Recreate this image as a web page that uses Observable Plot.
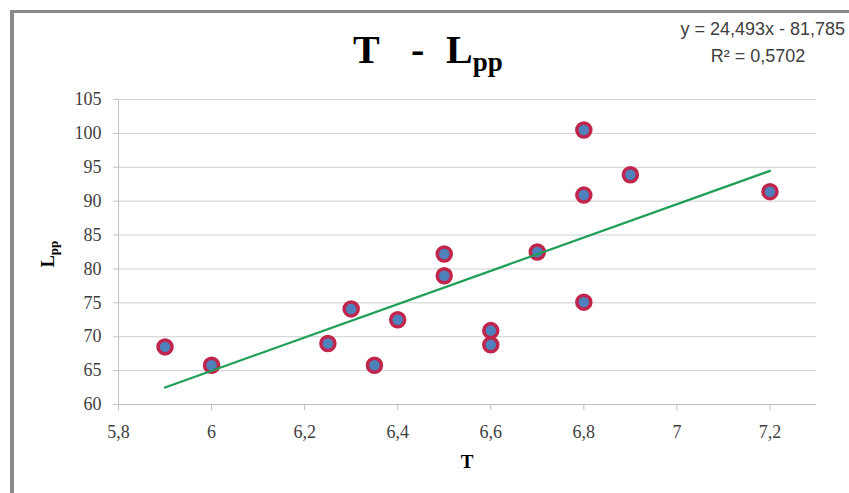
<!DOCTYPE html>
<html>
<head>
<meta charset="utf-8">
<script src="https://cdn.jsdelivr.net/npm/d3@7"></script>
<script src="https://cdn.jsdelivr.net/npm/@observablehq/plot@0.6"></script>
<style>
  html, body { margin: 0; padding: 0; background: #fff; }
  #chart { width: 849px; height: 493px; overflow: hidden; }
</style>
</head>
<body>
<div id="chart"></div>
<script>
// Data
const T   = [5.9, 6.0, 6.25, 6.3, 6.35, 6.4, 6.5, 6.5, 6.6, 6.6, 6.7, 6.8, 6.8, 6.8, 6.9, 7.2];
const Lpp = [68.5, 65.8, 69.0, 74.1, 65.8, 72.5, 82.2, 79.0, 70.9, 68.8, 82.5, 100.5, 90.9, 75.1, 93.9, 91.4];
const xTicks = [5.8, 6.0, 6.2, 6.4, 6.6, 6.8, 7.0, 7.2];
const yTicks = [60, 65, 70, 75, 80, 85, 90, 95, 100, 105];
const titleMain = "T", titleDash = "-", titleL = "L", titleSub = "pp";
const xLabel = "T";
const yLabelMain = "L", yLabelSub = "pp";
const eqLine1 = "y = 24,493x - 81,785";
const eqLine2 = "R² = 0,5702";

const data = T.map((t, i) => ({T: t, Lpp: Lpp[i]}));
const fmt = d => String(+d.toFixed(1)).replace(".", ",");
const serif = "Liberation Serif";
const sans = "Liberation Sans Narrow, Liberation Sans, sans-serif";

const chart = Plot.plot({
  width: 849,
  height: 493,
  marginLeft: 118,
  marginRight: 33,
  marginTop: 99,
  marginBottom: 89,
  style: "background: #fff; color: #404040;",
  x: {domain: [5.8, 7.3]},
  y: {domain: [60, 105]},
  marks: [
    Plot.gridY(yTicks, {stroke: "#cfcfcf", strokeOpacity: 1}),
    Plot.ruleX([5.8], {stroke: "#c4c4c4"}),
    Plot.ruleY([60], {stroke: "#bdbdbd"}),
    // tick marks only
    Plot.axisX({ticks: xTicks, tickFormat: () => "", tickSize: 6, label: null, stroke: "#bdbdbd"}),
    Plot.axisY({ticks: yTicks, tickFormat: () => "", tickSize: 5, label: null, stroke: "#c4c4c4"}),
    // tick labels in serif
    Plot.text(xTicks, {x: d => d, y: 60, text: fmt, dy: 28, fontFamily: serif, fontSize: 18,
      fill: "#404040", textAnchor: "middle"}),
    Plot.text(yTicks, {x: 5.8, y: d => d, text: fmt, dx: -17, fontFamily: serif, fontSize: 18,
      fill: "#404040", textAnchor: "end"}),
    Plot.dot(data, {x: "T", y: "Lpp", r: 7, fill: "#4f81bd", stroke: "#c0264b", strokeWidth: 3.5}),
    Plot.linearRegressionY(data, {x: "T", y: "Lpp", ci: 0, stroke: "#1f9e58", strokeWidth: 2.2})
  ]
});

document.getElementById("chart").appendChild(chart);

const svg = d3.select(chart);

// chart border (left and top)
svg.append("line").attr("x1", 12).attr("x2", 12).attr("y1", 10).attr("y2", 493)
  .attr("stroke", "#8a8a8a").attr("stroke-width", 4);
svg.append("line").attr("x1", 10).attr("x2", 849).attr("y1", 11.5).attr("y2", 11.5)
  .attr("stroke", "#8a8a8a").attr("stroke-width", 3);

// Title
const tAttrs = sel => sel.attr("font-family", serif).attr("font-weight", "bold")
  .attr("fill", "#000").attr("text-anchor", "start");
tAttrs(svg.append("text")).attr("x", 353).attr("y", 63).attr("font-size", 40).text(titleMain);
tAttrs(svg.append("text")).attr("x", 411).attr("y", 63).attr("font-size", 40).text(titleDash);
const tl = tAttrs(svg.append("text")).attr("x", 446).attr("y", 63).attr("font-size", 40);
tl.append("tspan").text(titleL);
tl.append("tspan").attr("font-size", 27).attr("dy", 8).text(titleSub);

// Regression equation
svg.append("text").attr("x", 845).attr("y", 35).attr("text-anchor", "end")
  .attr("font-family", sans).attr("font-size", 18).attr("fill", "#404040").text(eqLine1);
svg.append("text").attr("x", 758).attr("y", 62).attr("text-anchor", "middle")
  .attr("font-family", sans).attr("font-size", 18).attr("fill", "#404040").text(eqLine2);

// Axis titles
svg.append("text").attr("x", 467).attr("y", 468).attr("text-anchor", "middle")
  .attr("font-family", serif).attr("font-weight", "bold").attr("font-size", 19).attr("fill", "#000").text(xLabel);
const yl = svg.append("text").attr("transform", "translate(54,254) rotate(-90)").attr("text-anchor", "middle")
  .attr("font-family", serif).attr("font-weight", "bold").attr("font-size", 18).attr("fill", "#000");
yl.append("tspan").text(yLabelMain);
yl.append("tspan").attr("font-size", 13).attr("dy", 4).text(yLabelSub);
</script>
</body>
</html>
